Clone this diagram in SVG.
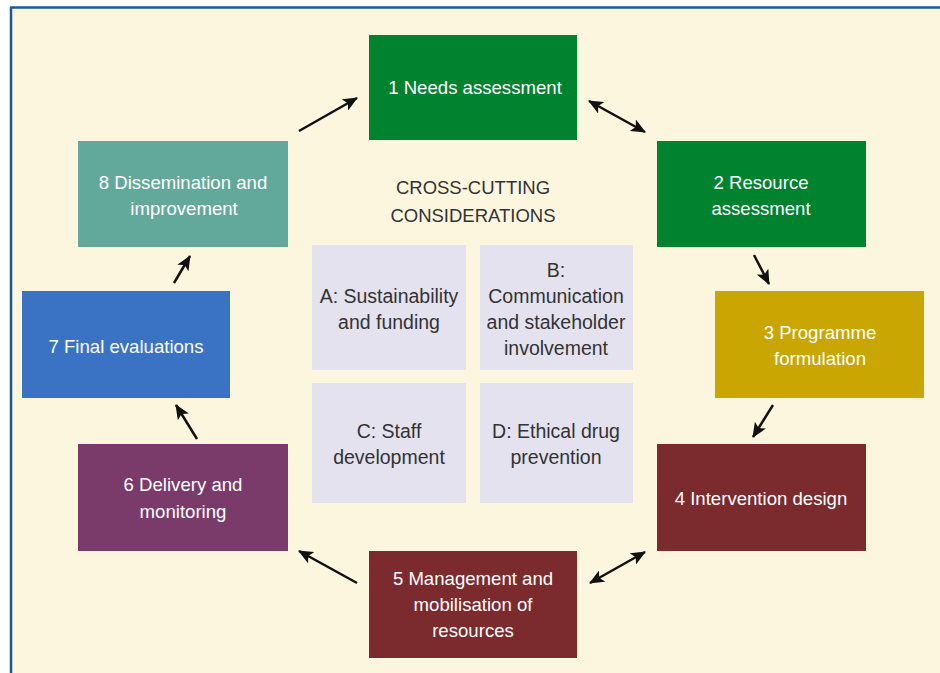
<svg xmlns="http://www.w3.org/2000/svg" width="940" height="673" viewBox="0 0 940 673">
<defs>
<marker id="ah" viewBox="0 0 15 13" refX="14" refY="6.5" markerWidth="15" markerHeight="13" markerUnits="userSpaceOnUse" orient="auto-start-reverse">
<path d="M0,0 L15,6.5 L0,13 L3.5,6.5 Z" fill="#111"/>
</marker>
<style>
.n text{fill:#fff;font-family:"Liberation Sans",Arial,sans-serif;font-size:18.6px;text-anchor:middle}
.c text{fill:#333;font-family:"Liberation Sans",Arial,sans-serif;font-size:19.5px;text-anchor:middle}
#title text{font-size:18.5px}
.c rect{fill:#e3e2ee}
.e line{stroke:#111;stroke-width:2.5;fill:none}
</style>
</defs>
<rect x="0" y="0" width="940" height="673" fill="#fff"/>
<rect x="11" y="8" width="929" height="665" fill="#fdf6df"/>
<line x1="10" y1="7.5" x2="940" y2="7.5" stroke="#1a5b98" stroke-width="2.5"/>
<line x1="11" y1="7" x2="11" y2="673" stroke="#1a5b98" stroke-width="2.5"/>

<g id="title" class="c"><text x="473" y="194">CROSS-CUTTING</text><text x="473" y="222">CONSIDERATIONS</text></g>

<g id="n1" class="n"><rect x="369" y="35" width="208" height="105" fill="#00822f"/><text x="475" y="94">1 Needs assessment</text></g>
<g id="n2" class="n"><rect x="657" y="141" width="209" height="106" fill="#00822f"/><text x="761" y="189">2 Resource</text><text x="761" y="215">assessment</text></g>
<g id="n3" class="n"><rect x="715" y="291" width="209" height="107" fill="#c9a602"/><text x="820" y="339">3 Programme</text><text x="820" y="365">formulation</text></g>
<g id="n4" class="n"><rect x="657" y="444" width="209" height="107" fill="#7b2a2d"/><text x="761" y="505">4 Intervention design</text></g>
<g id="n5" class="n"><rect x="369" y="551" width="208" height="107" fill="#7b2a2d"/><text x="473" y="585">5 Management and</text><text x="473" y="611">mobilisation of</text><text x="473" y="637">resources</text></g>
<g id="n6" class="n"><rect x="78" y="444" width="210" height="107" fill="#7a3b6b"/><text x="183" y="491">6 Delivery and</text><text x="183" y="518">monitoring</text></g>
<g id="n7" class="n"><rect x="22" y="291" width="208" height="107" fill="#3a73c4"/><text x="126" y="353">7 Final evaluations</text></g>
<g id="n8" class="n"><rect x="78" y="141" width="210" height="106" fill="#63a99b"/><text x="183" y="189">8 Dissemination and</text><text x="184" y="215">improvement</text></g>

<g id="A" class="c"><rect x="312" y="245" width="154" height="125"/><text x="389" y="303">A: Sustainability</text><text x="389" y="329">and funding</text></g>
<g id="B" class="c"><rect x="480" y="245" width="153" height="125"/><text x="556" y="277">B:</text><text x="556" y="303">Communication</text><text x="556" y="329">and stakeholder</text><text x="556" y="355">involvement</text></g>
<g id="C" class="c"><rect x="312" y="383" width="154" height="120"/><text x="389" y="438">C: Staff</text><text x="389" y="464">development</text></g>
<g id="D" class="c"><rect x="480" y="383" width="153" height="120"/><text x="556" y="438">D: Ethical drug</text><text x="556" y="464">prevention</text></g>

<g id="edges" class="e">
<line x1="299" y1="131" x2="357" y2="98" marker-end="url(#ah)"/>
<line x1="589" y1="101" x2="645" y2="132" marker-start="url(#ah)" marker-end="url(#ah)"/>
<line x1="754" y1="255" x2="769" y2="284" marker-end="url(#ah)"/>
<line x1="773" y1="405" x2="753" y2="437" marker-end="url(#ah)"/>
<line x1="645" y1="552" x2="590" y2="583" marker-start="url(#ah)" marker-end="url(#ah)"/>
<line x1="357" y1="583" x2="299" y2="551" marker-end="url(#ah)"/>
<line x1="197" y1="439" x2="176" y2="405" marker-end="url(#ah)"/>
<line x1="174" y1="283" x2="190" y2="256" marker-end="url(#ah)"/>
</g>
</svg>
